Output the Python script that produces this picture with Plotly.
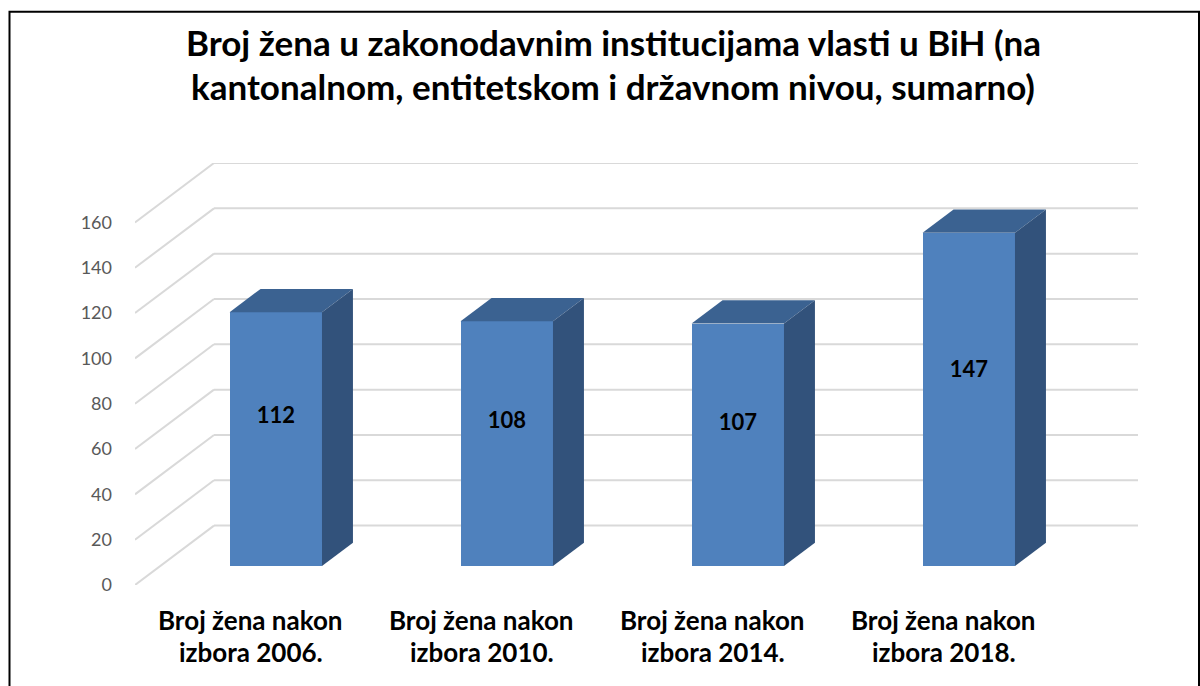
import plotly.graph_objects as go

# ---------------- data ----------------
categories = ["Broj žena nakon|izbora 2006.", "Broj žena nakon|izbora 2010.",
              "Broj žena nakon|izbora 2014.", "Broj žena nakon|izbora 2018."]
values = [112, 108, 107, 147]
y_ticks = [0, 20, 40, 60, 80, 100, 120, 140, 160]
title_lines = ["Broj žena u zakonodavnim institucijama vlasti u BiH (na",
               "kantonalnom, entitetskom i državnom nivou, sumarno)"]

# ---------------- layout geometry ----------------
W, H = 1200, 686
ML, MR, MT, MB = 135, 62, 163, 101
PW, PH = W - ML - MR, H - MT - MB

DX = 0.342      # depth offset in category units
DY = 26.2       # depth offset in value units
F0, F1 = 0.32, 0.712   # bar front / back depth fractions
BW = 0.40       # bar width (category units)
LABEL_FRAC = 0.585
YMAX = y_ticks[-1]

FRONT = "#4F81BD"
TOP = "#3B6291"
SIDE = "#32527B"
GRID = "#D9D9D9"
FONT = "Lato"


def px_to_paper_x(px):
    return (px - ML) / PW


def px_to_paper_y(py):
    return (H - MB - py) / PH


fig = go.Figure()

# front faces of the bars
xs = [i + F0 * DX for i in range(len(values))]
fig.add_trace(go.Bar(
    x=xs, y=values, base=[F0 * DY] * len(values), width=BW,
    marker=dict(color=FRONT, line=dict(width=0)),
    hoverinfo="skip", showlegend=False,
))

# top and side faces
ddx = (F1 - F0) * DX
ddy = (F1 - F0) * DY
for xc, v in zip(xs, values):
    xl, xr = xc - BW / 2, xc + BW / 2
    yb, yt = F0 * DY, v + F0 * DY
    fig.add_trace(go.Scatter(
        x=[xl, xl + ddx, xr + ddx, xr, xl],
        y=[yt, yt + ddy, yt + ddy, yt, yt],
        fill="toself", fillcolor=TOP, mode="lines", line=dict(width=0, color=TOP),
        hoverinfo="skip", showlegend=False,
    ))
    fig.add_trace(go.Scatter(
        x=[xr, xr + ddx, xr + ddx, xr, xr],
        y=[yb, yb + ddy, yt + ddy, yt, yb],
        fill="toself", fillcolor=SIDE, mode="lines", line=dict(width=0, color=SIDE),
        hoverinfo="skip", showlegend=False,
    ))

# value labels
fig.add_trace(go.Scatter(
    x=xs, y=[F0 * DY + LABEL_FRAC * v for v in values], mode="text",
    text=[str(v) for v in values],
    textfont=dict(family=FONT, size=22, color="#000000", weight="bold"),
    hoverinfo="skip", showlegend=False,
))

# back-wall gridlines and side-wall diagonals
shapes = []
x_left = -0.5
x_right = len(values) - 0.5
for t in y_ticks:
    shapes.append(dict(type="line", xref="x", yref="y", layer="below",
                       x0=x_left + DX, x1=x_right + DX, y0=t + DY, y1=t + DY,
                       line=dict(color=GRID, width=2)))
    shapes.append(dict(type="line", xref="x", yref="y", layer="below",
                       x0=x_left, x1=x_left + DX, y0=t, y1=t + DY,
                       line=dict(color=GRID, width=2)))

# outer frame
shapes.append(dict(type="rect", xref="paper", yref="paper",
                   x0=px_to_paper_x(9.5), x1=px_to_paper_x(1199),
                   y0=px_to_paper_y(720), y1=px_to_paper_y(11.7),
                   line=dict(color="#000000", width=2), fillcolor="rgba(0,0,0,0)"))

annotations = []
# title
for k, line in enumerate(title_lines):
    annotations.append(dict(
        text=line, xref="paper", yref="paper",
        x=px_to_paper_x(613), y=px_to_paper_y(42 + 44 * k),
        xanchor="center", yanchor="middle", showarrow=False,
        font=dict(family=FONT, size=35, color="#000000", weight="bold"),
    ))
# category labels
for i, c in enumerate(categories):
    for k, part in enumerate(c.split("|")):
        annotations.append(dict(
            text=part, xref="x", yref="paper",
            x=i, y=px_to_paper_y(620 + 32 * k),
            xanchor="center", yanchor="middle", showarrow=False,
            font=dict(family=FONT, size=26, color="#000000", weight="bold"),
        ))

fig.update_layout(
    width=W, height=H,
    margin=dict(l=ML, r=MR, t=MT, b=MB, pad=0),
    paper_bgcolor="white", plot_bgcolor="white",
    shapes=shapes, annotations=annotations,
    xaxis=dict(range=[x_left, x_right + DX], showgrid=False, zeroline=False,
               showline=False, showticklabels=False, ticks="", fixedrange=True),
    yaxis=dict(range=[0, YMAX + DY], tickvals=y_ticks, showgrid=False,
               zeroline=False, showline=False, ticks="", ticklabelstandoff=22,
               tickfont=dict(family=FONT, size=18, color="#595959"), fixedrange=True),
    bargap=0,
    showlegend=False,
)

fig.write_html("out.html",
               config={"displayModeBar": False, "staticPlot": True},
               post_script="document.body.style.margin='0';document.body.style.padding='0';")
